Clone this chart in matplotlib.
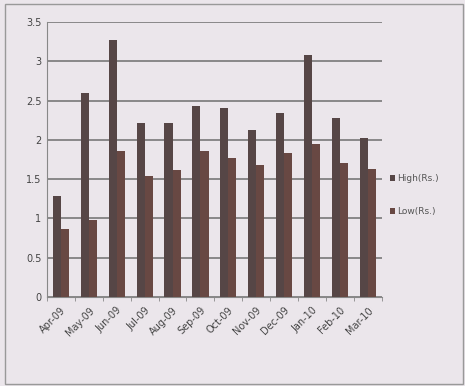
import matplotlib
matplotlib.use("Agg")
import matplotlib.pyplot as plt
import numpy as np

months = ["Apr-09", "May-09", "Jun-09", "Jul-09", "Aug-09", "Sep-09",
          "Oct-09", "Nov-09", "Dec-09", "Jan-10", "Feb-10", "Mar-10"]
high = [1.28, 2.60, 3.27, 2.21, 2.22, 2.43, 2.41, 2.13, 2.34, 3.08, 2.28, 2.02]
low = [0.87, 0.98, 1.86, 1.54, 1.62, 1.86, 1.77, 1.68, 1.83, 1.95, 1.70, 1.63]
yticks = [0, 0.5, 1, 1.5, 2, 2.5, 3, 3.5]
ytick_labels = ["0", "0.5", "1", "1.5", "2", "2.5", "3", "3.5"]

bg = "#ebe6eb"
fig = plt.figure(figsize=(4.65, 3.86), dpi=100, facecolor=bg)
ax = fig.add_axes([0.101, 0.231, 0.72, 0.712], facecolor=bg)

x = np.arange(len(months))
w = 0.29
ax.bar(x - w / 2, high, width=w, color="#564646", label="High(Rs.)", zorder=3)
ax.bar(x + w / 2, low, width=w, color="#684843", label="Low(Rs.)", zorder=3)

ax.set_xlim(-0.5, len(months) - 0.5)
ax.set_ylim(0, 3.5)
ax.set_yticks(yticks)
ax.set_yticklabels(ytick_labels, fontsize=7, color="#444444")
ax.set_xticks(x)
ax.set_xticklabels(months, rotation=45, ha="right", rotation_mode="anchor",
                   fontsize=7, color="#444444")
ax.tick_params(axis="x", length=0, pad=6)
ax.tick_params(axis="y", length=0, pad=4)
ax.set_xticks(np.arange(-0.5, len(months), 1), minor=True)
ax.tick_params(axis="x", which="minor", length=3, color="#888888")

ax.yaxis.grid(True, color="#6e6e6e", linewidth=1.1, zorder=0)
for s in ["top", "right"]:
    ax.spines[s].set_visible(False)
ax.spines["left"].set_color("#888888")
ax.spines["bottom"].set_color("#888888")

leg = ax.legend(loc="center left", bbox_to_anchor=(1.0, 0.37), frameon=False,
                fontsize=6.5, handlelength=0.55, handleheight=0.6,
                handletextpad=0.3, labelspacing=2.6)
for t in leg.get_texts():
    t.set_color("#555555")

border = plt.Rectangle((0.011, 0.005), 0.985, 0.985, transform=fig.transFigure,
                       fill=False, edgecolor="#999999", linewidth=1.0)
fig.patches.append(border)

fig.savefig("out.png", dpi=100, facecolor=bg)
